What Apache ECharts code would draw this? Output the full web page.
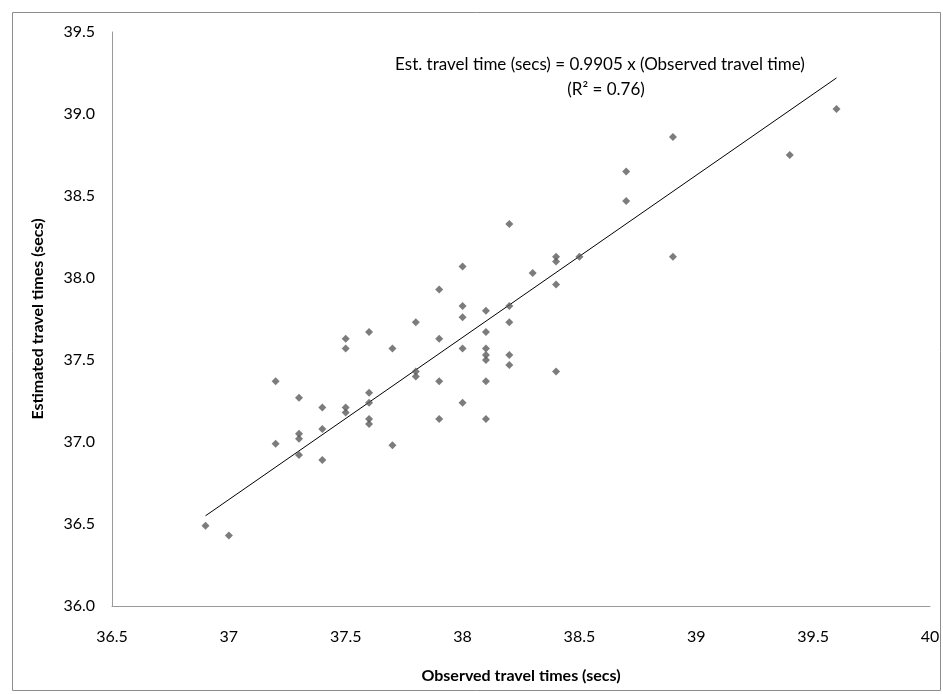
<!DOCTYPE html>
<html>
<head>
<meta charset="utf-8">
<script src="https://cdn.jsdelivr.net/npm/echarts@6/dist/echarts.min.js"></script>
<style>
html, body { margin: 0; padding: 0; background: #fff; }
#chart { width: 943px; height: 694px; }
</style>
</head>
<body>
<div id="chart"></div>
<script>
// observed travel times (secs), one entry per point
var observed = [
	36.9, 37.0,
	37.2, 37.2,
	37.3, 37.3, 37.3, 37.3,
	37.4, 37.4, 37.4,
	37.5, 37.5, 37.5, 37.5,
	37.6, 37.6, 37.6, 37.6, 37.6,
	37.7, 37.7,
	37.8, 37.8, 37.8,
	37.9, 37.9, 37.9, 37.9,
	38.0, 38.0, 38.0, 38.0, 38.0,
	38.1, 38.1, 38.1, 38.1, 38.1, 38.1, 38.1,
	38.2, 38.2, 38.2, 38.2, 38.2,
	38.3,
	38.4, 38.4, 38.4, 38.4,
	38.5,
	38.7, 38.7,
	38.9, 38.9,
	39.4,
	39.6
];
// estimated travel times (secs), same order
var estimated = [
	36.49, 36.43,
	37.37, 36.99,
	37.27, 37.05, 37.02, 36.92,
	37.21, 37.08, 36.89,
	37.63, 37.57, 37.21, 37.18,
	37.67, 37.30, 37.24, 37.14, 37.11,
	37.57, 36.98,
	37.73, 37.43, 37.40,
	37.93, 37.63, 37.37, 37.14,
	38.07, 37.83, 37.76, 37.57, 37.24,
	37.80, 37.67, 37.57, 37.53, 37.50, 37.37, 37.14,
	38.33, 37.83, 37.73, 37.53, 37.47,
	38.03,
	38.13, 38.10, 37.96, 37.43,
	38.13,
	38.65, 38.47,
	38.86, 38.13,
	38.75,
	39.03
];
// trend line end points
var trendX = [36.9, 39.6];
var trendY = [36.55, 39.22];

var eqLine1 = 'Est. travel time (secs) = 0.9905 x (Observed travel time)';
var eqLine2 = '(R\u00b2 = 0.76)';

var font = 'Lato, "Open Sans", sans-serif';

function pairs(xs, ys) {
	var out = [];
	for (var i = 0; i < xs.length; i++) {
		out.push([xs[i], ys[i]]);
	}
	return out;
}

var chart = echarts.init(document.getElementById('chart'));
var option = {
	animation: false,
	grid: { left: 112, right: 13, top: 32, bottom: 88 },
	xAxis: {
		type: 'value',
		min: 36.5,
		max: 40,
		interval: 0.5,
		name: 'Observed travel times (secs)',
		nameLocation: 'middle',
		nameGap: 62,
		nameTextStyle: { color: '#000', fontSize: 16, fontWeight: 'bold', fontFamily: font },
		axisLine: { lineStyle: { color: '#9a9a9a', width: 1 } },
		axisTick: { show: false },
		splitLine: { show: false },
		axisLabel: { color: '#000', fontSize: 16, fontFamily: font, margin: 23 }
	},
	yAxis: {
		type: 'value',
		min: 36,
		max: 39.5,
		interval: 0.5,
		name: 'Estimated travel times (secs)',
		nameLocation: 'middle',
		nameGap: 66,
		nameTextStyle: { color: '#000', fontSize: 16, fontWeight: 'bold', fontFamily: font },
		axisLine: { show: true, lineStyle: { color: '#9a9a9a', width: 1 } },
		axisTick: { show: false },
		splitLine: { show: false },
		axisLabel: {
			color: '#000', fontSize: 16, fontFamily: font, margin: 17,
			formatter: function (v) { return v.toFixed(1); }
		}
	},
	series: [{
		type: 'scatter',
		symbol: 'diamond',
		symbolSize: 8,
		itemStyle: { color: '#5b5b5b' },
		data: pairs(observed, estimated),
		z: 3
	}, {
		type: 'line',
		data: pairs(trendX, trendY),
		symbol: 'none',
		lineStyle: { color: '#000', width: 1 },
		z: 2
	}],
	graphic: [{
		type: 'rect',
		shape: { x: 12.5, y: 12.5, width: 928, height: 678 },
		style: { fill: 'none', stroke: '#8c8c8c', lineWidth: 1 },
		silent: true
	}, {
		type: 'text',
		x: 600, y: 65,
		style: { text: eqLine1, fill: '#000', font: '17px ' + font, textAlign: 'center', textVerticalAlign: 'middle' }
	}, {
		type: 'text',
		x: 606, y: 90,
		style: { text: eqLine2, fill: '#000', font: '17px ' + font, textAlign: 'center', textVerticalAlign: 'middle' }
	}]
};
chart.setOption(option);
</script>
</body>
</html>
